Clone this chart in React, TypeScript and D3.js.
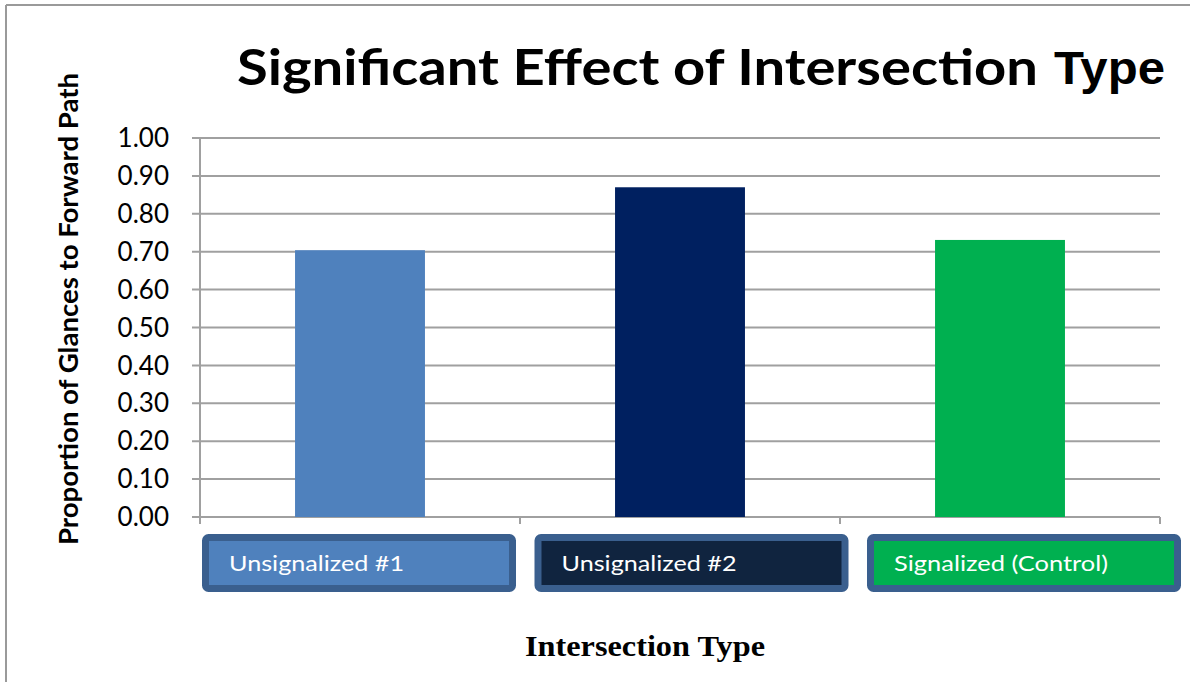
import React from 'react';
import * as d3 from 'd3';

// chart values
const categories = ['Unsignalized #1', 'Unsignalized #2', 'Signalized (Control)'];
const values = [0.704, 0.870, 0.731];
const barColors = ['#4F81BD', '#002060', '#00B050'];
const boxColors = ['#4F81BD', '#10243F', '#00B050'];
const yTicks = [0, 0.1, 0.2, 0.3, 0.4, 0.5, 0.6, 0.7, 0.8, 0.9, 1.0];
const labelWidths = [175, 175, 214];

const W = 1190;
const H = 682;
const plot = { left: 200, right: 1160, top: 138, bottom: 517 };
const gridColor = '#A0A0A0';

const x = d3.scaleBand<string>()
  .domain(categories)
  .range([plot.left, plot.right])
  .paddingInner(0.594)
  .paddingOuter(0.297);

const y = d3.scaleLinear().domain([0, 1]).range([plot.bottom, plot.top]);

// label boxes under the axis (drawn shapes, slightly wider step than the bands)
const boxStep = 332.5;
const boxStart = 202;
const boxWidth = 314;
const boxTop = 534;
const boxHeight = 58;

const sans = 'Lato, "Open Sans", sans-serif';

const App = () => {
  const step = x.step();
  const xTicks = d3.range(categories.length + 1).map((i) => plot.left + i * step);

  return (
    <svg width={W} height={H} style={{ position: 'absolute', left: 0, top: 0, background: '#fff' }}>
      {/* outer frame */}
      <line x1={6} x2={W} y1={5} y2={5} stroke="#9A9A9A" strokeWidth={2} />
      <line x1={6} x2={6} y1={5} y2={H} stroke="#9A9A9A" strokeWidth={2} />

      {/* title */}
      <text x={237} y={85} fontFamily={sans} fontWeight={700} fontSize={50}
        textLength={801} lengthAdjust="spacingAndGlyphs" fill="#000">
        Significant Effect of  Intersection
      </text>
      <text x={1054} y={84} fontFamily='"Liberation Sans", Arial, sans-serif' fontWeight={700} fontSize={46}
        textLength={111} lengthAdjust="spacingAndGlyphs" fill="#000">
        Type
      </text>

      {/* gridlines and y ticks */}
      {yTicks.map((t) => (
        <g key={t}>
          <line x1={plot.left - 8} x2={plot.right} y1={y(t)} y2={y(t)} stroke={gridColor} strokeWidth={2} />
          <text x={169} y={y(t)} dy="0.35em" textAnchor="end" fontFamily={sans} fontSize={26} fill="#000">
            {t.toFixed(2)}
          </text>
        </g>
      ))}
      <line x1={plot.left} x2={plot.left} y1={plot.top} y2={plot.bottom + 6} stroke={gridColor} strokeWidth={2} />

      {/* x axis ticks */}
      {xTicks.map((tx, i) => (
        <line key={i} x1={tx} x2={tx} y1={plot.bottom} y2={plot.bottom + 7} stroke={gridColor} strokeWidth={2} />
      ))}

      {/* bars */}
      {categories.map((c, i) => (
        <rect key={c} x={x(c)} y={y(values[i])} width={x.bandwidth()} height={y(0) - y(values[i])} fill={barColors[i]} />
      ))}

      {/* category label boxes */}
      {categories.map((c, i) => {
        const bx = boxStart + i * boxStep;
        return (
          <g key={c}>
            <rect x={bx + 3.5} y={boxTop + 3.5} width={boxWidth - 7} height={boxHeight - 7}
              rx={3} fill={boxColors[i]} stroke="#3A5F8E" strokeWidth={7} />
            <text x={bx + 27} y={boxTop + 37} fontFamily={sans} fontSize={22} fill="#fff"
              textLength={labelWidths[i]} lengthAdjust="spacingAndGlyphs">
              {c}
            </text>
          </g>
        );
      })}

      {/* axis titles */}
      <text transform={`translate(78, ${(73 + 545) / 2}) rotate(-90)`} textAnchor="middle"
        fontFamily={sans} fontWeight={700} fontSize={27} fill="#000"
        textLength={472} lengthAdjust="spacingAndGlyphs">
        Proportion of Glances to Forward Path
      </text>
      <text x={645} y={656} textAnchor="middle" fontFamily='"Liberation Serif", "Times New Roman", serif'
        fontWeight={700} fontSize={30} fill="#000" textLength={240} lengthAdjust="spacingAndGlyphs">
        Intersection Type
      </text>
    </svg>
  );
};

export default App;
